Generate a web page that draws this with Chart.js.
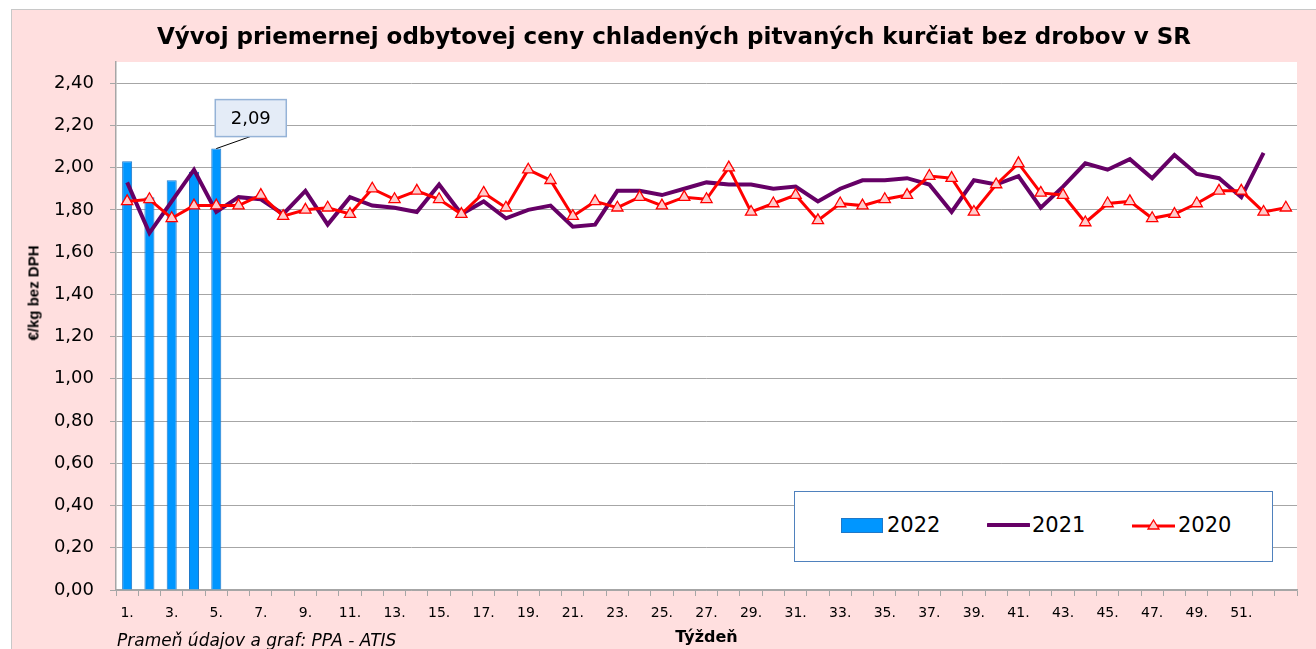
<!DOCTYPE html>
<html>
<head>
<meta charset="utf-8">
<script src="https://cdn.jsdelivr.net/npm/chart.js@4.4.1/dist/chart.umd.min.js"></script>
<style>
  html, body { margin: 0; padding: 0; background: #fff; overflow: hidden; }
  #frame { position: absolute; left: 11px; top: 9px; width: 1320px; height: 660px;
           background: #FFDFDF; border: 1.5px solid #C8C8C8; }
  #c1 { position: absolute; left: 0; top: 0; }
  .txt { position: absolute; font-family: "DejaVu Sans", sans-serif; color: #000; white-space: nowrap; }
  #title { left: 0; width: 1348px; top: 23px; text-align: center; font-weight: bold; font-size: 23px; }
  #ytitle { left: 33px; top: 293px; font-family: "Liberation Sans", sans-serif; font-weight: bold; font-size: 15px;
            transform: translate(-50%, -50%) rotate(-90deg); }
  #src { left: 117px; top: 630px; font-style: italic; font-size: 17px; }
  #lg { position: absolute; left: 794px; top: 491px; width: 477px; height: 69px; background: #fff;
        border: 1.5px solid #4F81BD; }
  .it { position: absolute; top: 18px; height: 30px; display: flex; align-items: center;
        font-family: "DejaVu Sans", sans-serif; font-size: 21px; }
</style>
</head>
<body>
<div id="frame"></div>
<canvas id="c1" width="1316" height="649"></canvas>
<div class="txt" id="title">Vývoj priemernej odbytovej ceny chladených pitvaných kurčiat bez drobov v SR</div>
<div class="txt" id="ytitle">€/kg bez DPH</div>
<div class="txt" id="src">Prameň údajov a graf: PPA - ATIS</div>
<div id="lg">
  <div class="it" style="left:46px"><span style="display:inline-block;width:40px;height:13px;background:#0096FF;border:1px solid #1F78C8;margin-right:4px"></span>2022</div>
  <div class="it" style="left:192px"><svg width="43" height="10" style="margin-right:2px"><line x1="1" y1="5" x2="42" y2="5" stroke="#660066" stroke-width="4" stroke-linecap="round"/></svg>2021</div>
  <div class="it" style="left:337px"><svg width="44" height="16" style="margin-right:2px"><line x1="0" y1="9" x2="43" y2="9" stroke="#FF0000" stroke-width="3"/><polygon points="21.5,3 27,12 16,12" fill="#FFCCCC" stroke="#FF0000" stroke-width="1.3"/></svg>2020</div>
</div>
<script>
let weeks = [];
for (let i = 1; i <= 53; i++) { weeks.push(i + "."); }

let y2022 = [2.03, 1.86, 1.94, 1.98, 2.09];

let y2021 = [1.93, 1.69, 1.84, 1.99, 1.79, 1.86, 1.85, 1.78, 1.89, 1.73,
             1.86, 1.82, 1.81, 1.79, 1.92, 1.78, 1.84, 1.76, 1.80, 1.82,
             1.72, 1.73, 1.89, 1.89, 1.87, 1.90, 1.93, 1.92, 1.92, 1.90,
             1.91, 1.84, 1.90, 1.94, 1.94, 1.95, 1.92, 1.79, 1.94, 1.92,
             1.96, 1.81, 1.91, 2.02, 1.99, 2.04, 1.95, 2.06, 1.97, 1.95,
             1.86, 2.07];

let y2020 = [1.84, 1.85, 1.76, 1.82, 1.82, 1.82, 1.87, 1.77, 1.80, 1.81,
             1.78, 1.90, 1.85, 1.89, 1.85, 1.78, 1.88, 1.81, 1.99, 1.94,
             1.77, 1.84, 1.81, 1.86, 1.82, 1.86, 1.85, 2.00, 1.79, 1.83,
             1.87, 1.75, 1.83, 1.82, 1.85, 1.87, 1.96, 1.95, 1.79, 1.92,
             2.02, 1.88, 1.87, 1.74, 1.83, 1.84, 1.76, 1.78, 1.83, 1.89,
             1.89, 1.79, 1.81];

let fmt = v => v.toFixed(2).replace('.', ',');

// white plot area + callout on the last 2022 bar
let plotBg = {
    id: 'plotBg',
    beforeDraw(chart) {
        let a = chart.chartArea;
        let ctx = chart.ctx;
        ctx.save();
        ctx.fillStyle = '#fff';
        ctx.fillRect(a.left, a.top, a.right - a.left, a.bottom - a.top);
        ctx.restore();
    }
};

let callout = {
    id: 'callout',
    afterDatasetsDraw(chart) {
        let meta = chart.getDatasetMeta(0);
        let i = y2022.length - 1;
        let el = meta.data[i];
        let ctx = chart.ctx;
        let bx = el.x - 1, by = el.y - 49, bw = 71, bh = 37;
        ctx.save();
        ctx.strokeStyle = '#000';
        ctx.lineWidth = 1;
        ctx.beginPath();
        ctx.moveTo(bx + 35, by + bh);
        ctx.lineTo(el.x, el.y);
        ctx.stroke();
        ctx.fillStyle = '#E4ECF7';
        ctx.strokeStyle = '#95B3D7';
        ctx.lineWidth = 1.5;
        ctx.fillRect(bx, by, bw, bh);
        ctx.strokeRect(bx, by, bw, bh);
        ctx.fillStyle = '#000';
        ctx.font = '18px "DejaVu Sans"';
        ctx.textAlign = 'center';
        ctx.textBaseline = 'middle';
        ctx.fillText(fmt(y2022[i]), bx + bw / 2, by + bh / 2 + 1);
        ctx.restore();
    }
};

let c1 = document.querySelector('#c1');
let opts1 = {
    type: 'bar',
    data: {
        labels: weeks,
        datasets: [
            {
                type: 'bar',
                label: '2022',
                data: y2022,
                backgroundColor: '#0096FF',
                borderColor: '#1F78C8',
                borderWidth: 1,
                barPercentage: 0.45,
                categoryPercentage: 1,
                order: 3,
            },
            {
                type: 'line',
                label: '2021',
                data: y2021,
                borderColor: '#660066',
                borderWidth: 4,
                pointRadius: 0,
                tension: 0,
                order: 2,
            },
            {
                type: 'line',
                label: '2020',
                data: y2020,
                borderColor: '#FF0000',
                borderWidth: 3,
                pointStyle: 'triangle',
                pointRadius: 6.5,
                pointBackgroundColor: '#FFCCCC',
                pointBorderColor: '#FF0000',
                pointBorderWidth: 1.3,
                tension: 0,
                order: 1,
            },
        ],
    },
    options: {
        responsive: false,
        animation: false,
        devicePixelRatio: 1,
        layout: { padding: { top: 62, right: 19, left: 0, bottom: 0 } },
        plugins: {
            legend: { display: false },
            tooltip: { enabled: false },
            title: { display: false },
        },
        scales: {
            x: {
                offset: true,
                afterFit: (s) => { s.height = 59; },
                grid: { offset: true, drawOnChartArea: false, tickLength: 6, color: '#A6A6A6' },
                border: { color: '#A6A6A6', width: 1.5 },
                ticks: {
                    autoSkip: false,
                    maxRotation: 0,
                    padding: 9,
                    color: '#000',
                    font: { family: 'DejaVu Sans', size: 14 },
                    callback: (v, i) => (i % 2 == 0 && i < 52 ? weeks[i] : ''),
                },
                title: {
                    display: true,
                    text: 'Týždeň',
                    color: '#000',
                    font: { family: 'DejaVu Sans', size: 16, weight: 'bold' },
                    padding: { top: 0, bottom: 2 },
                },
            },
            y: {
                min: 0,
                max: 2.5,
                afterFit: (s) => { s.width = 116; },
                afterBuildTicks: (s) => { s.ticks = s.ticks.filter(t => t.value <= 2.4001); },
                grid: { color: '#A6A6A6', tickLength: 6 },
                border: { color: '#A6A6A6', width: 1.5 },
                ticks: {
                    stepSize: 0.2,
                    padding: 16,
                    color: '#000',
                    font: { family: 'DejaVu Sans', size: 18 },
                    callback: (v) => fmt(v),
                },
            },
        },
    },
    plugins: [plotBg, callout],
};

let chart1 = new Chart(c1, opts1);
</script>
</body>
</html>
